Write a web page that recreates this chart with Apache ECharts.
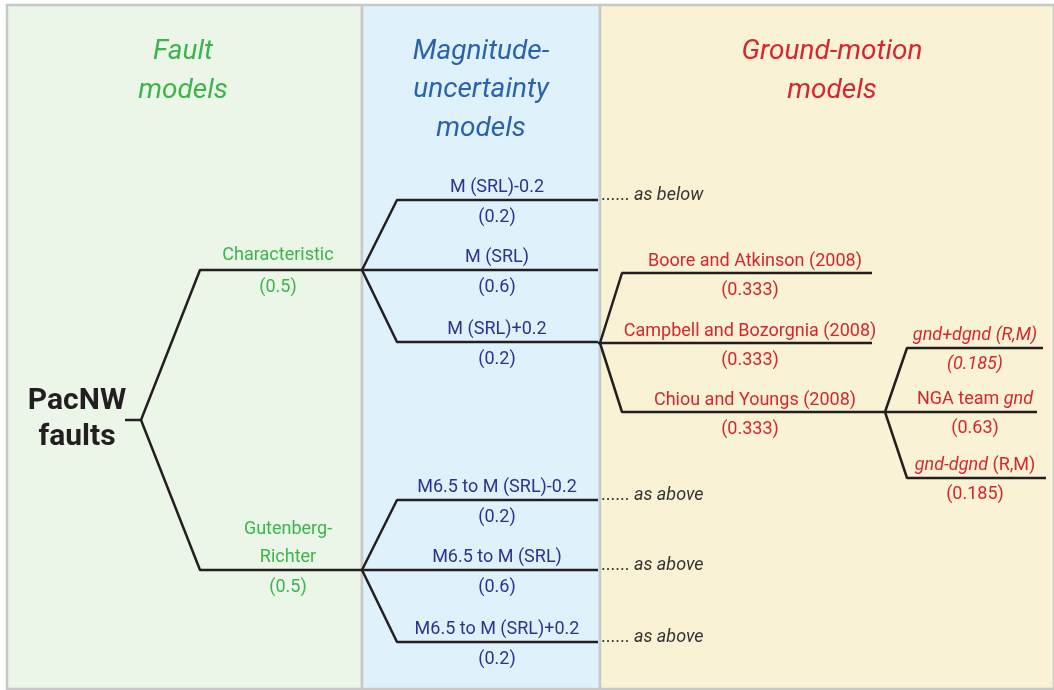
<!DOCTYPE html>
<html>
<head>
<meta charset="utf-8">
<script src="https://cdn.jsdelivr.net/npm/echarts@6/dist/echarts.min.js"></script>
<style>
html,body{margin:0;padding:0;background:#ffffff;}
#chart{width:1054px;height:690px;}
</style>
</head>
<body>
<div id="chart"></div>
<script>
// ---------------- DATA ----------------
const columnTitles = ['Fault\nmodels', 'Magnitude-\nuncertainty\nmodels', 'Ground-motion\nmodels'];
const rootName = ['PacNW', 'faults'];
const faultModels = ['Characteristic', 'Gutenberg-\nRichter'];
const faultWeights = ['0.5', '0.5'];
const magModelsUpper = ['M (SRL)-0.2', 'M (SRL)', 'M (SRL)+0.2'];
const magModelsLower = ['M6.5 to M (SRL)-0.2', 'M6.5 to M (SRL)', 'M6.5 to M (SRL)+0.2'];
const magWeights = ['0.2', '0.6', '0.2'];
const gmModels = ['Boore and Atkinson (2008)', 'Campbell and Bozorgnia (2008)', 'Chiou and Youngs (2008)'];
const gmWeights = ['0.333', '0.333', '0.333'];
const gndModels = ['{i|gnd+dgnd (R,M)}', 'NGA team {i|gnd}', '{i|gnd-dgnd} (R,M)'];
const gndWeights = ['{i|(0.185)}', '(0.63)', '(0.185)'];
const branchNotes = ['as below', 'as above', 'as above', 'as above'];

// ---------------- LAYOUT (pixel-like units) ----------------
const L = {
  panels: [[7, 362, '#ebf5e8'], [362, 600, '#dff2fb'], [600, 1060, '#f9f2d5']],
  top: 5, bottom: 689,
  titleX: [183, 481, 832],
  root: {x0: 125, x: 141, y: 420},
  fault: {x1: 200, x2: 362, ys: [270, 570], labX: [278, 288]},
  mag: {x1: 397, x2: 598, dy: [-70, 0, 72], labX: 497},
  gm: {x0: 600, y0: 343, x1: 622, x2: 872, ys: [273, 343, 412], xEnd: [872, 872, 885], labX: 750},
  gnd: {x0: 885, y0: 412, x1: 907, ys: [348, 412, 478], xEnd: [1043, 1037, 1046], labX: 975}
};

const GREEN = '#3cb54a', BLUE = '#2e3192', TBLUE = '#2a62ae', RED = '#d6262f', INK = '#231f20';
const FONT = 'Roboto, "Liberation Sans", sans-serif';

// ---------------- BUILD ----------------
const series = [];
const lineStyle = {color: INK, width: 2.5, opacity: 1};
function path(pts) {
  series.push({type: 'line', data: pts, showSymbol: false, symbol: 'none', silent: true,
    lineStyle: lineStyle, animation: false, z: 3});
}
const labels = [];
function text(x, y, str, color, size, extra) {
  labels.push({value: [x, y], label: Object.assign({
    show: true, position: 'inside', formatter: str, color: color, fontSize: size, opacity: 1,
    fontFamily: FONT, lineHeight: size * 1.3, align: 'center', verticalAlign: 'middle'
  }, extra || {})});
}

// panels
const areas = L.panels.map(p => [{xAxis: p[0], yAxis: L.top, itemStyle: {color: p[2], opacity: 1}}, {xAxis: p[1], yAxis: L.bottom}]);

// titles
text(L.titleX[0], 71, columnTitles[0], GREEN, 28, {fontStyle: 'italic', lineHeight: 39});
text(L.titleX[1], 90, columnTitles[1], TBLUE, 28, {fontStyle: 'italic', lineHeight: 38.5});
text(L.titleX[2], 71, columnTitles[2], RED, 28, {fontStyle: 'italic', lineHeight: 39});

// root
text(77, 419, rootName.join('\n'), INK, 30, {fontWeight: 'bold', lineHeight: 36});
path([[L.root.x0, L.root.y], [L.root.x, L.root.y]]);

// fault branches
faultModels.forEach((name, i) => {
  const y = L.fault.ys[i];
  path([[L.root.x, L.root.y], [L.fault.x1, y], [L.fault.x2, y]]);
  const lx = L.fault.labX[i];
  if (i === 0) {
    text(lx, y - 15, name, GREEN, 18);
  } else {
    text(lx, y - 27, name, GREEN, 18, {lineHeight: 28});
  }
  text(lx, y + 17, '(' + faultWeights[i] + ')', GREEN, 18);

  // magnitude branches
  const mags = i === 0 ? magModelsUpper : magModelsLower;
  mags.forEach((m, j) => {
    const yy = y + L.mag.dy[j];
    if (j === 1) path([[L.fault.x2, y], [L.mag.x2, yy]]);
    else path([[L.fault.x2, y], [L.mag.x1, yy], [L.mag.x2, yy]]);
    text(L.mag.labX, yy - 13, m, BLUE, 18);
    text(L.mag.labX, yy + 17, '(' + magWeights[j] + ')', BLUE, 18);
  });
});

// notes
const noteYs = [L.fault.ys[0] + L.mag.dy[0], L.fault.ys[1] + L.mag.dy[0], L.fault.ys[1] + L.mag.dy[1], L.fault.ys[1] + L.mag.dy[2]];
branchNotes.forEach((n, k) => {
  text(601, noteYs[k] - 5, '...... {i|' + n + '}', '#333333', 18, {align: 'left',
    rich: {i: {fontStyle: 'italic', fontSize: 18, fontFamily: FONT, color: '#333333'}}});
});

// ground-motion branches
path([[L.mag.x2, L.gm.y0], [L.gm.x0, L.gm.y0]]);
gmModels.forEach((g, k) => {
  const y = L.gm.ys[k];
  if (k === 1) path([[L.gm.x0, L.gm.y0], [L.gm.xEnd[k], y]]);
  else path([[L.gm.x0, L.gm.y0], [L.gm.x1, y], [L.gm.xEnd[k], y]]);
  text(L.gm.labX + (k === 1 ? 0 : 5), y - 12, g, RED, 18);
  text(L.gm.labX, y + 17, '(' + gmWeights[k] + ')', RED, 18);
});

// gnd branches
gndModels.forEach((g, k) => {
  const y = L.gnd.ys[k];
  if (k === 1) path([[L.gnd.x0, L.gnd.y0], [L.gnd.xEnd[k], y]]);
  else path([[L.gnd.x0, L.gnd.y0], [L.gnd.x1, y], [L.gnd.xEnd[k], y]]);
  const rich = {i: {fontStyle: 'italic', fontSize: 18, fontFamily: FONT, color: RED}};
  text(L.gnd.labX, y - 13, g, RED, 18, {rich: rich});
  text(L.gnd.labX, y + 16, gndWeights[k], RED, 18, {rich: rich});
});

series.push({
  type: 'line', data: [], silent: true, animation: false, z: 1,
  markArea: {silent: true, itemStyle: {borderColor: '#c8c8c8', borderWidth: 2.5, opacity: 1}, data: areas}
});
series.push({
  type: 'scatter', data: labels, symbolSize: 0, silent: true, animation: false, z: 5,
  itemStyle: {opacity: 1}
});

const chart = echarts.init(document.getElementById('chart'), null, {renderer: 'canvas'});
chart.setOption({
  backgroundColor: '#ffffff',
  animation: false,
  grid: {left: 0, right: 0, top: 0, bottom: 0},
  xAxis: {type: 'value', min: 0, max: 1054, show: false},
  yAxis: {type: 'value', min: 0, max: 690, inverse: true, show: false},
  series: series
});
</script>
</body>
</html>
